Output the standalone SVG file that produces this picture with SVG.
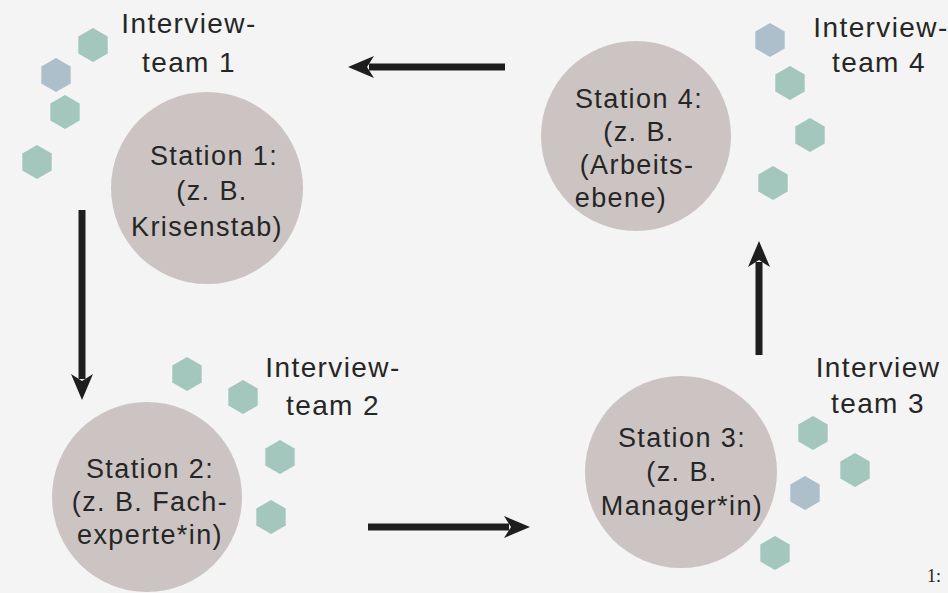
<svg xmlns="http://www.w3.org/2000/svg" width="948" height="593" viewBox="0 0 948 593">
  <defs>
    <style>
      .bg { fill: #f4f4f4; }
      .station { fill: #ccc4c2; }
      .hex { fill: #a3c6bd; }
      .hexb { fill: #adbfca; }
      .st { font-family: "Liberation Sans", Arial, sans-serif; font-size: 27px; letter-spacing: 1.4px; fill: #262626; text-anchor: middle; }
      .lb { font-family: "Liberation Sans", Arial, sans-serif; font-size: 28px; letter-spacing: 1.4px; fill: #262626; text-anchor: middle; }
      .conn { stroke: #1e1e1e; stroke-width: 7; fill: none; marker-end: url(#arrow); }
      .note { font-family: "Liberation Serif", serif; font-size: 18px; fill: #222; }
    </style>
    <marker id="arrow" viewBox="-2 -12 30 24" markerWidth="30" markerHeight="24" markerUnits="userSpaceOnUse" orient="auto" refX="5" refY="0">
      <path d="M0,-11 L26,0 L0,11 L7,0 Z" fill="#1e1e1e"/>
    </marker>
    <polygon id="hx" points="0,-17 14.7,-8.5 14.7,8.5 0,17 -14.7,8.5 -14.7,-8.5"/>
  </defs>

  <rect class="bg" x="0" y="0" width="948" height="593"/>

  <g id="connectors">
    <line class="conn" x1="505" y1="67" x2="369" y2="67"/>
    <line class="conn" x1="82" y1="210" x2="82" y2="379"/>
    <line class="conn" x1="368" y1="527" x2="509" y2="527"/>
    <line class="conn" x1="759" y1="355" x2="759" y2="262"/>
  </g>

  <g id="team1">
    <use href="#hx" class="hex" x="93" y="45"/>
    <use href="#hx" class="hexb" x="56" y="75"/>
    <use href="#hx" class="hex" x="65" y="112"/>
    <use href="#hx" class="hex" x="37" y="162"/>
    <text class="lb" x="189" y="33">Interview-</text>
    <text class="lb" x="189" y="72">team 1</text>
  </g>

  <g id="station1">
    <circle class="station" cx="207" cy="188" r="96"/>
    <text class="st" x="214" y="165">Station 1:</text>
    <text class="st" x="212" y="200">(z. B.</text>
    <text class="st" x="207" y="236">Krisenstab)</text>
  </g>

  <g id="team2">
    <use href="#hx" class="hex" x="187" y="374"/>
    <use href="#hx" class="hex" x="243" y="397"/>
    <use href="#hx" class="hex" x="280" y="457"/>
    <use href="#hx" class="hex" x="271" y="517"/>
    <text class="lb" x="333" y="377">Interview-</text>
    <text class="lb" x="333" y="415">team 2</text>
  </g>

  <g id="station2">
    <circle class="station" cx="147" cy="497" r="95"/>
    <text class="st" x="150" y="478">Station 2:</text>
    <text class="st" x="150" y="511">(z. B. Fach-</text>
    <text class="st" x="150" y="544">experte*in)</text>
  </g>

  <g id="team3">
    <use href="#hx" class="hex" x="813" y="433"/>
    <use href="#hx" class="hex" x="855" y="470"/>
    <use href="#hx" class="hexb" x="805" y="493"/>
    <use href="#hx" class="hex" x="775" y="553"/>
    <text class="lb" x="878" y="377">Interview</text>
    <text class="lb" x="878" y="413">team 3</text>
  </g>

  <g id="station3">
    <circle class="station" cx="681" cy="472" r="96"/>
    <text class="st" x="682" y="447">Station 3:</text>
    <text class="st" x="682" y="481">(z. B.</text>
    <text class="st" x="682" y="515">Manager*in)</text>
  </g>

  <g id="team4">
    <use href="#hx" class="hexb" x="770" y="40"/>
    <use href="#hx" class="hex" x="790" y="83"/>
    <use href="#hx" class="hex" x="810" y="135"/>
    <use href="#hx" class="hex" x="773" y="183"/>
    <text class="lb" x="881" y="37">Interview-</text>
    <text class="lb" x="879" y="72">team 4</text>
  </g>

  <g id="station4">
    <circle class="station" cx="636" cy="136" r="95"/>
    <text class="st" x="639" y="108">Station 4:</text>
    <text class="st" x="639" y="141">(z. B.</text>
    <text class="st" x="637" y="174">(Arbeits-</text>
    <text class="st" x="621" y="207">ebene)</text>
  </g>

  <text class="note" x="927" y="582">1:</text>
</svg>
